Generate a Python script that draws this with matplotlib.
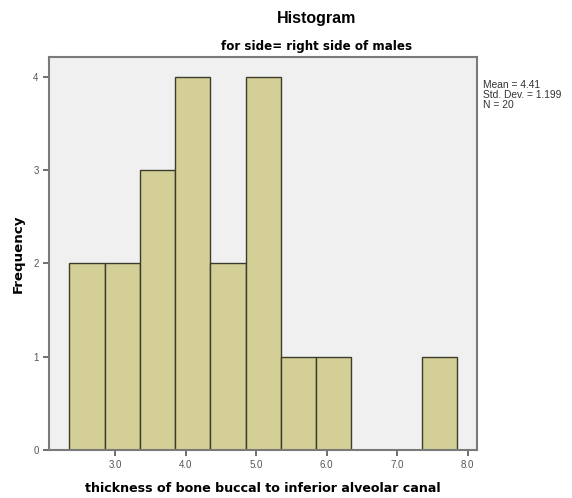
import numpy as np
import matplotlib
matplotlib.use('Agg')
import matplotlib.pyplot as plt

plt.rcParams['font.family'] = ['Liberation Sans', 'DejaVu Sans']

#bin edges and counts
bin_edges = [2.35, 2.85, 3.35, 3.85, 4.35, 4.85, 5.35, 5.85, 6.35, 6.85, 7.35, 7.85]
counts = [2, 2, 3, 4, 2, 4, 1, 1, 0, 0, 1]
x_ticks = [3.0, 4.0, 5.0, 6.0, 7.0, 8.0]
y_ticks = [0, 1, 2, 3, 4]
stats_text = 'Mean = 4.41\nStd. Dev. = 1.199\nN = 20'

fig = plt.figure(figsize=(5.72, 4.98), dpi=100)
ax = fig.add_axes([0.0857, 0.0964, 0.748, 0.789])
ax.set_facecolor('#f0f0f0')

lefts = np.array(bin_edges[:-1])
widths = np.diff(bin_edges)
ax.bar(lefts, counts, width=widths, align='edge', color='#d3cf97', edgecolor='#3b3b2e', linewidth=1.0, zorder=2)

ax.set_xlim(2.06, 8.13)
ax.set_ylim(0, 4.21)
ax.set_xticks(x_ticks)
ax.set_xticklabels(['%.1f' % t for t in x_ticks])
ax.set_yticks(y_ticks)
ax.tick_params(axis='both', labelsize=7, colors='#555555', length=4, width=1.2)

for s in ax.spines.values():
    s.set_color('#7a7a7a')
    s.set_linewidth(1.5)

#labels in a wider, heavier face like the original
ax.set_xlabel('thickness of bone buccal to inferior alveolar canal', fontsize=9.1, fontweight='bold',
              family='DejaVu Sans', labelpad=8)
ax.set_ylabel('Frequency', fontsize=9.6, fontweight='bold', family='DejaVu Sans', labelpad=6)

fig.text(0.553, 0.963, 'Histogram', ha='center', va='center', fontsize=11.5, fontweight='bold')
fig.text(0.553, 0.906, 'for side= right side of males', ha='center', va='center', fontsize=8.6,
         fontweight='bold', family='DejaVu Sans')
fig.text(0.845, 0.840, stats_text, ha='left', va='top', fontsize=7.4, color='#333333', linespacing=1.0)

fig.savefig('out.png', dpi=100, facecolor='white')
